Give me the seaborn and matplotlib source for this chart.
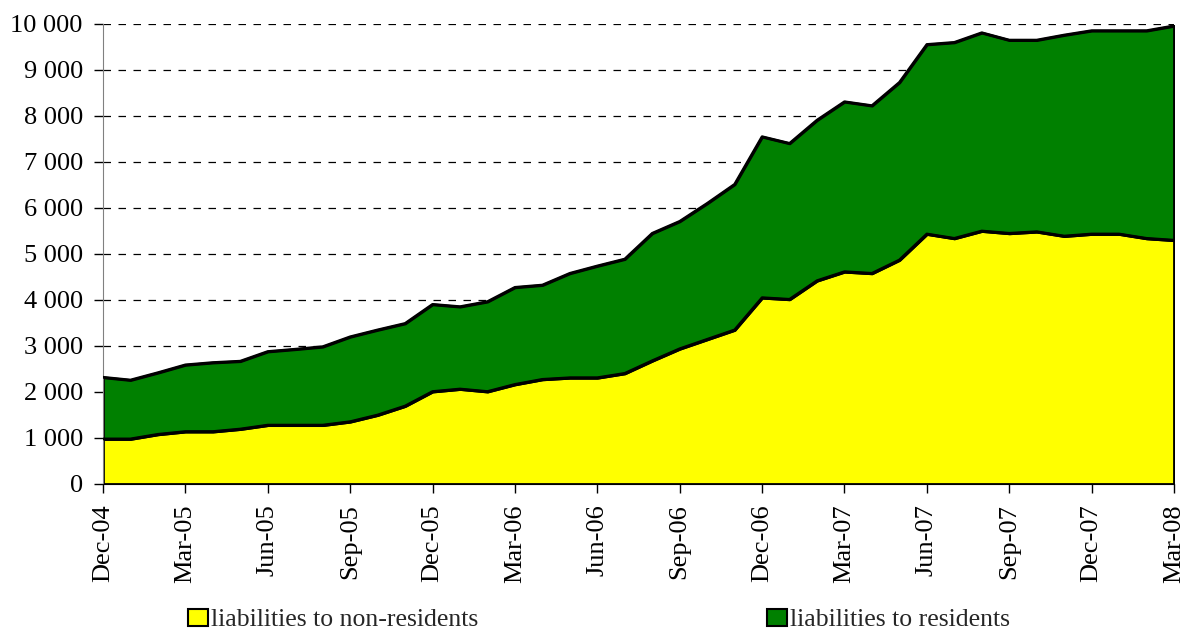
import pandas as pd
import numpy as np
import matplotlib
matplotlib.use("Agg")
import matplotlib.pyplot as plt
import matplotlib.patches as mpatches
from matplotlib.ticker import FuncFormatter
import seaborn as sns

# monthly data, Dec-04 .. Mar-08
months = pd.date_range("2004-12-01", periods=40, freq="MS")
non_residents = [980, 980, 1080, 1140, 1140, 1195, 1280, 1280, 1280, 1355,
                 1500, 1695, 2010, 2065, 2010, 2165, 2275, 2310, 2310, 2405,
                 2680, 2940, 3145, 3350, 4050, 4015, 4420, 4615, 4580, 4870,
                 5435, 5340, 5500, 5450, 5485, 5390, 5435, 5435, 5340, 5300]
residents = [1340, 1280, 1340, 1450, 1500, 1475, 1600, 1650, 1705, 1845,
             1850, 1795, 1895, 1790, 1955, 2110, 2050, 2270, 2430, 2485,
             2770, 2770, 2955, 3165, 3500, 3390, 3490, 3695, 3645, 3860,
             4120, 4260, 4310, 4200, 4165, 4370, 4420, 4420, 4515, 4660]
series_labels = ["liabilities to non-residents", "liabilities to residents"]
series_colors = ["#FFFF00", "#008000"]

df = pd.DataFrame({"month": months, "non_res": non_residents, "res": residents})
df["pos"] = np.arange(len(df))
df["total"] = df["non_res"] + df["res"]

sns.set_style("white")
plt.rcParams["font.family"] = ["Liberation Serif", "DejaVu Serif"]

fig = plt.figure(figsize=(11.84, 6.31), dpi=100)
ax = fig.add_axes([103 / 1184, 1 - 484 / 631, (1174 - 103) / 1184, (484 - 24) / 631])

# stacked areas
ax.fill_between(df["pos"], 0, df["non_res"], facecolor=series_colors[0],
                edgecolor="black", linewidth=2, zorder=2)
ax.fill_between(df["pos"], df["non_res"], df["total"], facecolor=series_colors[1],
                edgecolor="black", linewidth=2, zorder=2)
sns.lineplot(data=df, x="pos", y="total", color="black", linewidth=2, ax=ax, zorder=3)
sns.lineplot(data=df, x="pos", y="non_res", color="black", linewidth=2, ax=ax, zorder=3)

ax.set_xlim(0, len(df) - 1)
ax.set_ylim(0, 10000)
ax.set_yticks(range(0, 10001, 1000))
ax.yaxis.set_major_formatter(FuncFormatter(lambda v, p: f"{int(v):,}".replace(",", " ")))
ax.set_xticks(df["pos"][::3])
ax.set_xticklabels(df["month"][::3].dt.strftime("%b-%y"), rotation=90)
ax.set_xlabel("")
ax.set_ylabel("")

ax.yaxis.grid(True, linestyle=(0, (6, 6)), color="black", linewidth=0.9, zorder=1)
ax.set_axisbelow(True)
ax.tick_params(axis="both", which="major", direction="out", labelsize=19,
               length=6.5, width=1, color="black", labelcolor="black", pad=8)
ax.tick_params(axis="y", left=True)
ax.tick_params(axis="x", bottom=True)

for s in ["top", "right"]:
    ax.spines[s].set_visible(False)
ax.spines["left"].set_color("#808080")
ax.spines["bottom"].set_color("black")
ax.spines["bottom"].set_zorder(4)

# legend, two entries spread apart below the chart
for i, (lab, col) in enumerate(zip(series_labels, series_colors)):
    h = mpatches.Patch(facecolor=col, edgecolor="black", linewidth=1.5, label=lab)
    fig.legend(handles=[h], loc="center left",
               bbox_to_anchor=([188 / 1184, 767 / 1184][i], 11 / 631), frameon=False,
               fontsize=18.5, handlelength=0.78, handleheight=0.7, handletextpad=0.12,
               borderpad=0, borderaxespad=0)

fig.savefig("out.png", dpi=100, facecolor="white")
